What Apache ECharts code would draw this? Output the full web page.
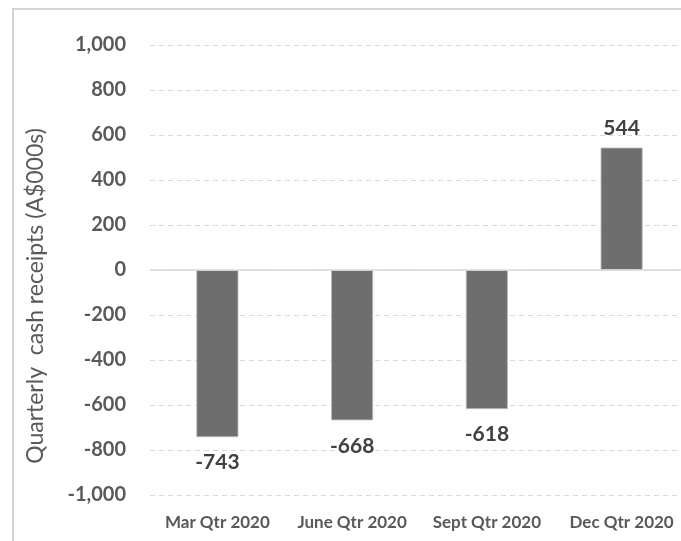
<!DOCTYPE html>
<html>
<head>
<meta charset="utf-8">
<script src="https://cdn.jsdelivr.net/npm/echarts@6/dist/echarts.min.js"></script>
<style>
  html, body { margin: 0; padding: 0; background: #ffffff; overflow: hidden; }
  /* plot area runs a few pixels past the right edge of the window */
  #chart { width: 690px; height: 541px; }
</style>
</head>
<body>
<div id="chart"></div>
<script>
// Quarterly cash receipts, A$000s
const quarters = ['Mar Qtr 2020', 'June Qtr 2020', 'Sept Qtr 2020', 'Dec Qtr 2020'];
const receipts = [-743, -668, -618, 544];
const yTicks = { min: -1000, max: 1000, step: 200 };
const axisTitle = 'Quarterly  cash receipts (A$000s)';

const FONT = 'Lato, "Open Sans", "Noto Sans", sans-serif';

function withCommas(v) {
  const s = Math.abs(v).toString().replace(/\B(?=(\d{3})+(?!\d))/g, ',');
  return (v < 0 ? '-' : '') + s;
}

const barData = receipts.map(v => ({
  value: v,
  label: { distance: v < 0 ? 15 : 9 }
}));

const chart = echarts.init(document.getElementById('chart'), null, { renderer: 'canvas' });

chart.setOption({
  backgroundColor: '#ffffff',
  animation: false,
  grid: { left: 150, right: 1, top: 45, bottom: 46, containLabel: false },
  graphic: [
    {
      type: 'rect',
      shape: { x: 13, y: 9, width: 720, height: 600 },
      style: { fill: 'none', stroke: '#d4d4d4', lineWidth: 2 },
      silent: true
    },
    {
      type: 'text',
      x: 36,
      y: 296,
      rotation: Math.PI / 2,
      style: {
        text: axisTitle,
        fill: '#595959',
        font: '23px ' + FONT,
        align: 'center',
        verticalAlign: 'middle'
      },
      silent: true
    }
  ],
  xAxis: {
    type: 'category',
    data: quarters,
    position: 'bottom',
    axisLine: { show: false },
    axisTick: { show: false },
    axisLabel: {
      color: '#595959',
      fontFamily: FONT,
      fontWeight: 'bold',
      fontSize: 17,
      margin: 19,
      interval: 0
    },
    splitLine: { show: false }
  },
  yAxis: {
    type: 'value',
    min: yTicks.min,
    max: yTicks.max,
    interval: yTicks.step,
    axisLine: { show: false },
    axisTick: { show: false },
    axisLabel: {
      color: '#595959',
      fontFamily: FONT,
      fontWeight: 'bold',
      fontSize: 20,
      margin: 24,
      formatter: withCommas
    },
    splitLine: {
      show: true,
      lineStyle: { color: '#d9d9d9', type: [5, 4], width: 1 }
    }
  },
  series: [
    {
      type: 'bar',
      data: barData,
      barWidth: 42,
      itemStyle: { color: '#6e6e6e', borderColor: '#bdbdbd', borderWidth: 0.8 },
      label: {
        show: true,
        position: 'outside',
        color: '#404040',
        fontFamily: FONT,
        fontWeight: 'bold',
        fontSize: 21,
        formatter: p => withCommas(p.value)
      },
      markLine: {
        silent: true,
        symbol: 'none',
        label: { show: false },
        lineStyle: { color: '#d9d9d9', type: 'solid', width: 1.5 },
        data: [{ yAxis: 0 }]
      },
      z: 3
    }
  ]
});
</script>
</body>
</html>
